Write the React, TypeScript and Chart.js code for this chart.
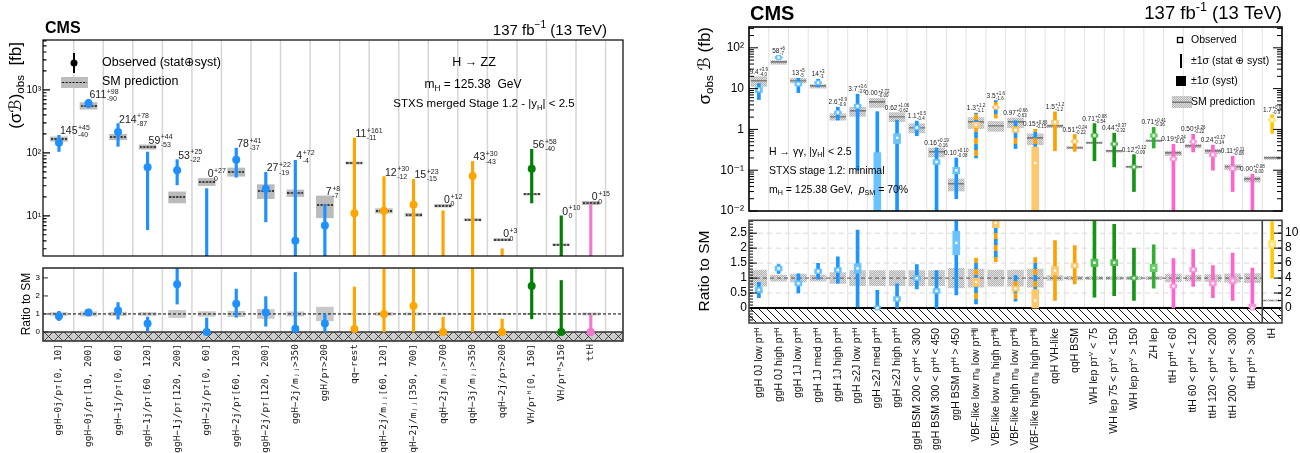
import React, { useEffect, useRef } from 'react';
import { Chart, registerables } from 'chart.js';

Chart.register(...registerables);

const SANS = '"Liberation Sans", Arial, Helvetica, "DejaVu Sans", sans-serif';
const MONO = '"DejaVu Sans Mono", "Liberation Mono", monospace';

// ================= Left panel: H -> ZZ =================
const zzCategories = [
  'ggH−0j/pᴛ[0, 10]', 'ggH−0j/pᴛ[10, 200]', 'ggH−1j/pᴛ[0, 60]', 'ggH−1j/pᴛ[60, 120]',
  'ggH−1j/pᴛ[120, 200]', 'ggH−2j/pᴛ[0, 60]', 'ggH−2j/pᴛ[60, 120]', 'ggH−2j/pᴛ[120, 200]',
  'ggH−2j/mⱼⱼ>350', 'ggH/pᴛ>200', 'qq−rest', 'qqH−2j/mⱼⱼ[60, 120]', 'qqH−2j/mⱼⱼ[350, 700]',
  'qqH−2j/mⱼⱼ>700', 'qqH−3j/mⱼⱼ>350', 'qqH−2j/pᴛ>200', 'VH/pᴛᴴ[0, 150]', 'VH/pᴛᴴ>150', 'ttH',
];
const zzGroup = ['ggH', 'ggH', 'ggH', 'ggH', 'ggH', 'ggH', 'ggH', 'ggH', 'ggH', 'ggH',
  'qqH', 'qqH', 'qqH', 'qqH', 'qqH', 'qqH', 'VH', 'VH', 'ttH'];
const zzObs = [145, 611, 214, 59, 53, 0, 78, 27, 4, 7, 11, 12, 15, 0, 43, 0, 56, 0, 0];
const zzUp = [45, 98, 78, 44, 25, 27, 41, 22, 72, 8, 161, 30, 23, 12, 30, 3, 58, 10, 15];
const zzDown = [40, 90, 87, 53, 22, 0, 37, 19, 4, 7, 11, 12, 15, 0, 43, 0, 40, 0, 0];
const zzSM = [166, 562, 179, 124, 20, 34.7, 50, 25, 23, 15, 69, 12, 10.4, 14.5, 8.7, 4.2, 22, 3.5, 16];
const zzSMUnc = [0.08, 0.12, 0.1, 0.08, 0.2, 0.13, 0.15, 0.25, 0.12, 0.38, 0.04, 0.08, 0.06, 0.05, 0.04, 0.04, 0.03, 0.03, 0.06];
const zzYTicks = [10, 100, 1000];
const zzYTickLabels = ['10¹', '10²', '10³'];
const zzRatioTicks = [0, 1, 2, 3];
const ZZ_COLORS: Record<string, string> = {
  ggH: 'rgb(30,144,255)', qqH: 'rgb(255,165,0)', VH: 'rgb(0,128,0)', ttH: 'rgb(240,120,205)',
};

// ================= Right panel: H -> gamma gamma =================
const ggCategories = [
  'ggH 0J low pᴛᴴ', 'ggH 0J high pᴛᴴ', 'ggH 1J low pᴛᴴ', 'ggH 1J med pᴛᴴ', 'ggH 1J high pᴛᴴ',
  'ggH ≥2J low pᴛᴴ', 'ggH ≥2J med pᴛᴴ', 'ggH ≥2J high pᴛᴴ', 'ggH BSM 200 < pᴛᴴ < 300',
  'ggH BSM 300 < pᴛᴴ < 450', 'ggH BSM pᴛᴴ > 450', 'VBF-like low mⱼⱼ low pᴛᴴʲʲ',
  'VBF-like low mⱼⱼ high pᴛᴴʲʲ', 'VBF-like high mⱼⱼ low pᴛᴴʲʲ', 'VBF-like high mⱼⱼ high pᴛᴴʲʲ',
  'qqH VH-like', 'qqH BSM', 'WH lep pᴛⱽ < 75', 'WH lep 75 < pᴛⱽ < 150', 'WH lep pᴛⱽ > 150',
  'ZH lep', 'ttH pᴛᴴ < 60', 'ttH 60 < pᴛᴴ < 120', 'ttH 120 < pᴛᴴ < 200', 'ttH 200 < pᴛᴴ < 300',
  'ttH pᴛᴴ > 300', 'tH',
];
const ggGroup = ['ggH', 'ggH', 'ggH', 'ggH', 'ggH', 'ggH', 'ggH', 'ggH', 'ggH', 'ggH', 'ggH',
  'VBF', 'VBF', 'VBF', 'VBF', 'qqH', 'qqH', 'WH', 'WH', 'WH', 'ZH', 'ttH', 'ttH', 'ttH', 'ttH', 'ttH', 'tH'];
const ggObs = [9.4, 58, 13, 14, 2.6, 3.7, 0.0, 0.62, 1.1, 0.16, 0.10, 1.3, 3.5, 0.97, 0.15, 1.5, 0.51,
  0.71, 0.44, 0.12, 0.71, 0.19, 0.50, 0.24, 0.11, 0.0, 1.7];
const ggUp = [3.9, 6, 5, 3, 0.9, 3.6, 2.72, 1.06, 0.5, 0.19, 0.10, 1.2, 1.6, 0.66, 0.86, 1.2, 0.24,
  0.68, 0.37, 0.12, 0.41, 0.24, 0.26, 0.17, 0.11, 0.08, 0.6];
const ggDown = [4.0, 7, 5, 3, 0.9, 3.6, 0.0, 0.62, 0.4, 0.16, 0.08, 1.1, 1.6, 0.63, 0.15, 1.2, 0.22,
  0.54, 0.32, 0.09, 0.36, 0.19, 0.22, 0.14, 0.08, 0.0, 0.9];
const ggSysUp = [1.4, 3.5, 1.3, 0.8, 0.17, 0.45, 0.27, 0.17, 0.09, 0.022, 0.018, 0.2, 0.2, 0.12, 0.22,
  0.17, 0.03, 0.06, 0.03, 0.006, 0.065, 0.016, 0.03, 0.026, 0.012, 0.008, 0.11];
const ggSysDown = [1.4, 3.5, 1.3, 0.8, 0.17, 0.45, 0.0, 0.17, 0.09, 0.022, 0.018, 0.2, 0.2, 0.12, 0.15,
  0.17, 0.03, 0.06, 0.03, 0.006, 0.065, 0.016, 0.03, 0.026, 0.012, 0.0, 0.11];
const ggSM = [15.5, 44, 15.8, 11.4, 2.05, 2.8, 4.6, 2.07, 1.1, 0.28, 0.046, 1.5, 1.23, 1.5, 0.6, 1.2,
  0.36, 0.47, 0.29, 0.12, 0.53, 0.26, 0.39, 0.29, 0.12, 0.06, 0.2];
const ggSMUnc = [0.27, 0.1, 0.13, 0.1, 0.18, 0.25, 0.25, 0.25, 0.25, 0.25, 0.33, 0.3, 0.27, 0.27, 0.3,
  0.08, 0.06, 0.05, 0.05, 0.05, 0.05, 0.13, 0.1, 0.12, 0.14, 0.15, 0.08];
const ggDecimals = [1, 0, 0, 0, 1, 1, 2, 2, 1, 2, 2, 1, 1, 2, 2, 1, 2, 2, 2, 2, 2, 2, 2, 2, 2, 2, 1];
const ggYTicks = [0.01, 0.1, 1, 10, 100];
const ggYTickLabels = ['10⁻²', '10⁻¹', '1', '10', '10²'];
const ggRatioTicks = [0, 0.5, 1, 1.5, 2, 2.5];
const ggRatioTickLabels = ['0', '0.5', '1', '1.5', '2', '2.5'];
const ggTHTicks = [0, 2, 4, 6, 8, 10];
const GG_DARK: Record<string, string> = {
  ggH: 'rgb(25,150,255)', VBF: 'rgb(255,160,0)', qqH: 'rgb(255,160,0)', WH: 'rgb(20,150,20)',
  ZH: 'rgb(50,175,50)', ttH: 'rgb(255,100,205)', tH: 'rgb(255,200,0)',
};
const GG_LIGHT: Record<string, string> = {
  ggH: 'rgb(105,195,255)', VBF: 'rgb(255,200,110)', qqH: 'rgb(255,200,110)', WH: 'rgb(80,190,80)',
  ZH: 'rgb(100,205,100)', ttH: 'rgb(255,150,220)', tH: 'rgb(255,228,110)',
};

// ================= helpers =================
type Seg = { t: string; k?: 'sub' | 'sup'; it?: boolean; b?: boolean };

function drawRich(ctx: CanvasRenderingContext2D, segs: Seg[], x: number, y: number, size: number,
  align: 'left' | 'center' | 'right' = 'left', rotate = false, color = '#000') {
  const fnt = (s: Seg) => `${s.it ? 'italic ' : ''}${s.b ? 'bold ' : ''}${s.k ? size * 0.68 : size}px ${SANS}`;
  ctx.save();
  ctx.fillStyle = color;
  ctx.textAlign = 'left';
  ctx.textBaseline = 'middle';
  const ws = segs.map((s) => { ctx.font = fnt(s); return ctx.measureText(s.t).width; });
  const total = ws.reduce((a, b) => a + b, 0);
  ctx.translate(x, y);
  if (rotate) ctx.rotate(-Math.PI / 2);
  let cx = align === 'left' ? 0 : align === 'center' ? -total / 2 : -total;
  segs.forEach((s, i) => {
    ctx.font = fnt(s);
    const dy = s.k === 'sub' ? size * 0.3 : s.k === 'sup' ? -size * 0.36 : 0;
    ctx.fillText(s.t, cx, dy);
    cx += ws[i];
  });
  ctx.restore();
}

function drawErrLabel(ctx: CanvasRenderingContext2D, main: string, sup: string, sub: string,
  x: number, y: number, size: number, ssize: number, align: 'left' | 'center') {
  ctx.save();
  ctx.fillStyle = '#222';
  ctx.textAlign = 'left';
  ctx.textBaseline = 'alphabetic';
  ctx.font = `${size}px ${SANS}`;
  const wm = ctx.measureText(main).width;
  ctx.font = `${ssize}px ${SANS}`;
  const ws = Math.max(ctx.measureText(sup).width, ctx.measureText(sub).width);
  const x0 = align === 'center' ? x - (wm + ws + 0.5) / 2 : x;
  ctx.font = `${size}px ${SANS}`;
  ctx.fillText(main, x0, y);
  ctx.font = `${ssize}px ${SANS}`;
  ctx.fillText(sup, x0 + wm + 0.5, y - size * 0.42);
  ctx.fillText(sub, x0 + wm + 0.5, y + ssize * 0.45);
  ctx.restore();
}

function makeCanvas(w: number, h: number, draw: (c: CanvasRenderingContext2D) => void) {
  const c = document.createElement('canvas');
  c.width = w;
  c.height = h;
  draw(c.getContext('2d') as CanvasRenderingContext2D);
  return c;
}

const zeroPad = (s: any) => { s.paddingLeft = 0; s.paddingRight = 0; s.paddingTop = 0; s.paddingBottom = 0; };

function drawTicks(ctx: CanvasRenderingContext2D, chart: any, axis: string, values: number[], len: number, side: 'left' | 'right') {
  const s = chart.scales[axis];
  const a = chart.chartArea;
  ctx.beginPath();
  values.forEach((v) => {
    const y = s.getPixelForValue(v);
    if (y < a.top - 0.5 || y > a.bottom + 0.5) return;
    if (side === 'left') { ctx.moveTo(a.left, y); ctx.lineTo(a.left + len, y); }
    else { ctx.moveTo(a.right, y); ctx.lineTo(a.right - len, y); }
  });
  ctx.stroke();
}

function vGrid(ctx: CanvasRenderingContext2D, chart: any, n: number, color: string, lw: number) {
  const xs = chart.scales.x;
  const a = chart.chartArea;
  ctx.save();
  ctx.strokeStyle = color;
  ctx.lineWidth = lw;
  ctx.beginPath();
  for (let i = 0; i < n; i++) {
    const x = xs.getPixelForValue(i + 0.5);
    if (x >= a.right - 1) continue;
    ctx.moveTo(x, a.top);
    ctx.lineTo(x, a.bottom);
  }
  ctx.stroke();
  ctx.restore();
}

function logMinorTicks(lo: number, hi: number) {
  const out: number[] = [];
  for (let e = Math.floor(Math.log10(lo)); e <= Math.ceil(Math.log10(hi)); e++) {
    for (let m = 2; m <= 9; m++) {
      const v = m * Math.pow(10, e);
      if (v >= lo && v <= hi) out.push(v);
    }
  }
  return out;
}

const baseOptions = () => ({
  responsive: false,
  animation: false,
  events: [],
  plugins: { legend: { display: false }, tooltip: { enabled: false } },
});

const ZZ_XMIN = -0.54;
const ZZ_XMAX = 19.09;
const GG_XMIN = -0.5;
const GG_XMAX = 26.5;

const zzColor = (i: number) => ZZ_COLORS[zzGroup[i]];

function xAxis(min: number, max: number, labels: string[], show: boolean, height: number, font: any, pad: number) {
  return {
    type: 'linear', min, max, offset: false,
    grid: { display: false, drawTicks: false }, border: { display: false },
    ticks: {
      display: show, autoSkip: false, maxRotation: 90, minRotation: 90, padding: pad, color: '#111', font,
      callback: (v: any) => labels[v] ?? '',
    },
    afterBuildTicks: (s: any) => { s.ticks = labels.map((_, i) => ({ value: i })); },
    afterFit: (s: any) => { s.height = height; zeroPad(s); },
  };
}

// ================= Left top =================
function zzTopConfig(): any {
  const idx = zzCategories.map((_, i) => i);
  const yMin = 2.3;
  const yMax = 6200;
  const dash = makeCanvas(16, 2, (c) => {
    c.strokeStyle = '#111'; c.lineWidth = 1.3; c.setLineDash([2.2, 1.3]);
    c.beginPath(); c.moveTo(0, 1); c.lineTo(16, 1); c.stroke();
  });
  const pts = idx.filter((i) => zzObs[i] > 0);
  return {
    type: 'bar',
    data: {
      datasets: [
        { type: 'line', data: pts.map((i) => ({ x: i, y: zzObs[i] })), showLine: false, pointRadius: 4,
          pointBackgroundColor: pts.map(zzColor), pointBorderWidth: 0, order: 0, clip: 5 },
        { type: 'bar', data: idx.map((i) => ({ x: i, y: [Math.max(zzObs[i] - zzDown[i], yMin), zzObs[i] + zzUp[i]] })),
          backgroundColor: idx.map(zzColor), barThickness: 2.5, grouped: false, order: 2, clip: 0 },
        { type: 'line', data: idx.map((i) => ({ x: i, y: zzSM[i] })), showLine: false, pointStyle: dash,
          pointRadius: 8, order: 3, clip: 8 },
        { type: 'bar', data: idx.map((i) => ({ x: i, y: [zzSM[i] * (1 - zzSMUnc[i]), zzSM[i] * (1 + zzSMUnc[i])] })),
          backgroundColor: 'rgba(180,180,180,0.9)', barThickness: 17, grouped: false, order: 4, clip: 0 },
      ],
    },
    options: {
      ...baseOptions(),
      layout: { padding: { top: 40, right: 17, bottom: 0, left: 0 } },
      scales: {
        x: xAxis(ZZ_XMIN, ZZ_XMAX, zzCategories, false, 8, { size: 10, family: MONO }, 3),
        y: {
          type: 'logarithmic', min: yMin, max: yMax,
          grid: { display: false, drawTicks: false }, border: { display: false },
          ticks: { padding: 2, color: '#000', font: { size: 10, family: SANS },
            callback: (v: any) => zzYTickLabels[zzYTicks.indexOf(Number(v))] ?? '' },
          afterBuildTicks: (s: any) => { s.ticks = zzYTicks.map((v) => ({ value: v })); },
          afterFit: (s: any) => { s.width = 43; zeroPad(s); },
        },
      },
    },
    plugins: [{
      id: 'zzTop',
      beforeDatasetsDraw(chart: any) {
        vGrid(chart.ctx, chart, zzCategories.length, '#d6d6d6', 1.5);
      },
      afterDatasetsDraw(chart: any) {
        const ctx = chart.ctx;
        const a = chart.chartArea;
        const ys = chart.scales.y;
        const xs = chart.scales.x;
        idx.forEach((i) => {
          const top = Math.min(ys.getPixelForValue(zzObs[i] + zzUp[i]), ys.getPixelForValue(zzSM[i] * (1 + zzSMUnc[i])));
          drawErrLabel(ctx, String(zzObs[i]), '+' + zzUp[i], zzObs[i] === 0 ? '0' : '-' + zzDown[i],
            xs.getPixelForValue(i) + 1, top - 1, 10.5, 7, 'left');
        });
        ctx.save();
        ctx.strokeStyle = '#000';
        ctx.lineWidth = 1.2;
        drawTicks(ctx, chart, 'y', zzYTicks, 7, 'left');
        drawTicks(ctx, chart, 'y', logMinorTicks(yMin, yMax), 3.5, 'left');
        ctx.strokeRect(a.left, a.top, a.right - a.left, a.bottom - a.top);
        ctx.restore();
      },
      afterDraw(chart: any) {
        const ctx = chart.ctx;
        drawRich(ctx, [{ t: 'CMS', b: true }], 45, 29, 16);
        drawRich(ctx, [{ t: '137 fb' }, { t: '−1', k: 'sup' }, { t: ' (13 TeV)' }], 607, 31, 15, 'right');
        drawRich(ctx, [{ t: '(σ' }, { t: 'ℬ', it: true }, { t: ')' }, { t: 'obs', k: 'sub' }, { t: '  [fb]' }], 16, 42, 17, 'right', true);
        // legend
        ctx.save();
        ctx.fillStyle = '#000';
        ctx.fillRect(73, 53, 2, 20);
        ctx.beginPath(); ctx.arc(74, 63, 3.5, 0, Math.PI * 2); ctx.fill();
        ctx.fillStyle = '#bdbdbd';
        ctx.fillRect(61, 77, 27, 11);
        ctx.strokeStyle = '#111'; ctx.lineWidth = 1.2; ctx.setLineDash([2.2, 1.3]);
        ctx.beginPath(); ctx.moveTo(62, 82.5); ctx.lineTo(87, 82.5); ctx.stroke();
        ctx.restore();
        drawRich(ctx, [{ t: 'Observed (stat⊕syst)' }], 102, 63, 12.5);
        drawRich(ctx, [{ t: 'SM prediction' }], 102, 82, 12.5);
        drawRich(ctx, [{ t: 'H → ZZ' }], 474, 63, 12.5, 'center');
        drawRich(ctx, [{ t: 'm' }, { t: 'H', k: 'sub' }, { t: ' = 125.38  GeV' }], 473, 85, 12, 'center');
        drawRich(ctx, [{ t: 'STXS merged Stage 1.2 - |y' }, { t: 'H', k: 'sub' }, { t: '| < 2.5' }], 484, 104, 11.5, 'center');
      },
    }],
  };
}

// ================= Left ratio =================
function zzRatioConfig(): any {
  const idx = zzCategories.map((_, i) => i);
  return {
    type: 'bar',
    data: {
      datasets: [
        { type: 'line', data: idx.map((i) => ({ x: i, y: zzObs[i] / zzSM[i] })), showLine: false, pointRadius: 4,
          pointBackgroundColor: idx.map(zzColor), pointBorderWidth: 0, order: 0, clip: 5 },
        { type: 'bar', data: idx.map((i) => ({ x: i, y: [(zzObs[i] - zzDown[i]) / zzSM[i], (zzObs[i] + zzUp[i]) / zzSM[i]] })),
          backgroundColor: idx.map(zzColor), barThickness: 2.5, grouped: false, order: 1, clip: 0 },
        { type: 'line', data: [{ x: ZZ_XMIN, y: 1 }, { x: ZZ_XMAX, y: 1 }], borderColor: '#000', borderWidth: 1,
          borderDash: [3, 2], pointRadius: 0, order: 2, clip: 0 },
        { type: 'bar', data: idx.map((i) => ({ x: i, y: [1 - zzSMUnc[i], 1 + zzSMUnc[i]] })),
          backgroundColor: 'rgba(190,190,190,0.85)', barThickness: 17, grouped: false, order: 3, clip: 0 },
      ],
    },
    options: {
      ...baseOptions(),
      layout: { padding: { top: 8, right: 17, bottom: 0, left: 0 } },
      scales: {
        x: xAxis(ZZ_XMIN, ZZ_XMAX, zzCategories, true, 112, { size: 9.5, family: MONO }, 3),
        y: {
          type: 'linear', min: -0.5, max: 3.55,
          grid: { display: false, drawTicks: false }, border: { display: false },
          ticks: { padding: 3, color: '#000', font: { size: 8, family: SANS }, callback: (v: any) => String(v) },
          afterBuildTicks: (s: any) => { s.ticks = zzRatioTicks.map((v) => ({ value: v })); },
          afterFit: (s: any) => { s.width = 43; zeroPad(s); },
        },
      },
    },
    plugins: [{
      id: 'zzRatio',
      beforeDatasetsDraw(chart: any) {
        const ctx = chart.ctx;
        const a = chart.chartArea;
        vGrid(ctx, chart, zzCategories.length, '#d6d6d6', 1.5);
        const y0 = chart.scales.y.getPixelForValue(0);
        const h = a.bottom - y0;
        ctx.save();
        ctx.beginPath(); ctx.rect(a.left, y0, a.right - a.left, h); ctx.clip();
        ctx.fillStyle = '#cccccc';
        ctx.fillRect(a.left, y0, a.right - a.left, h);
        ctx.strokeStyle = '#222'; ctx.lineWidth = 0.8;
        ctx.beginPath();
        for (let x = a.left - h; x < a.right + h; x += 10) {
          ctx.moveTo(x, a.bottom); ctx.lineTo(x + h, y0);
          ctx.moveTo(x, y0); ctx.lineTo(x + h, a.bottom);
        }
        ctx.stroke();
        ctx.restore();
        ctx.save();
        ctx.strokeStyle = '#333'; ctx.lineWidth = 1.5;
        ctx.beginPath(); ctx.moveTo(a.left, y0); ctx.lineTo(a.right, y0); ctx.stroke();
        ctx.restore();
      },
      afterDatasetsDraw(chart: any) {
        const ctx = chart.ctx;
        const a = chart.chartArea;
        ctx.save();
        ctx.strokeStyle = '#333';
        ctx.lineWidth = 1;
        drawTicks(ctx, chart, 'y', zzRatioTicks, 5, 'left');
        ctx.lineWidth = 1.6;
        ctx.strokeRect(a.left, a.top, a.right - a.left, a.bottom - a.top);
        ctx.restore();
      },
      afterDraw(chart: any) {
        drawRich(chart.ctx, [{ t: 'Ratio to SM' }], 27, 44, 12, 'center', true);
      },
    }],
  };
}

// ================= Right panel helpers =================
function ggPatterns() {
  const vbfCanvas = makeCanvas(3, 12, (c) => {
    c.fillStyle = GG_DARK.ggH; c.fillRect(0, 0, 3, 6);
    c.fillStyle = GG_DARK.VBF; c.fillRect(0, 6, 3, 6);
  });
  const smCanvas = makeCanvas(2, 2, (c) => {
    c.fillStyle = '#e0e0e0'; c.fillRect(0, 0, 2, 2);
    c.fillStyle = '#b2b2b2'; c.fillRect(0, 0, 1, 1); c.fillRect(1, 1, 1, 1);
  });
  const ctx = document.createElement('canvas').getContext('2d') as CanvasRenderingContext2D;
  return {
    vbf: ctx.createPattern(vbfCanvas, 'repeat'),
    sm: ctx.createPattern(smCanvas, 'repeat'),
  };
}

const ggDark = (i: number) => GG_DARK[ggGroup[i]];
const ggLight = (i: number) => GG_LIGHT[ggGroup[i]];

function ggSets(ids: number[], axis: string, pats: any, val: (v: number, i: number) => number, clampMin: number, withSMLine: boolean, smLineImg: any) {
  const cl = (v: number) => Math.max(v, clampMin);
  const pts = ids.filter((i) => ggObs[i] > 0 || clampMin <= 0);
  const sets: any[] = [
    { type: 'line', yAxisID: axis, data: pts.map((i) => ({ x: i, y: val(ggObs[i], i) })), showLine: false,
      pointStyle: 'rect', pointRadius: 2.6, pointBackgroundColor: '#fff', pointBorderColor: pts.map(ggLight),
      pointBorderWidth: 1.3, order: 0, clip: 5 },
    { type: 'bar', yAxisID: axis, data: ids.map((i) => ({ x: i, y: [cl(val(ggObs[i] - ggSysDown[i], i)), val(ggObs[i] + ggSysUp[i], i)] })),
      backgroundColor: ids.map(ggLight), barThickness: 7, grouped: false, order: 1, clip: 0 },
    { type: 'bar', yAxisID: axis, data: ids.map((i) => ({ x: i, y: [cl(val(ggObs[i] - ggDown[i], i)), val(ggObs[i] + ggUp[i], i)] })),
      backgroundColor: ids.map((i) => (ggGroup[i] === 'VBF' ? pats.vbf : ggDark(i))), barThickness: 3, grouped: false, order: 2, clip: 0 },
    { type: 'bar', yAxisID: axis, data: ids.map((i) => ({ x: i, y: [val(ggSM[i] * (1 - ggSMUnc[i]), i), val(ggSM[i] * (1 + ggSMUnc[i]), i)] })),
      backgroundColor: pats.sm, barThickness: 16, grouped: false, order: 4, clip: 0 },
  ];
  if (withSMLine) {
    sets.push({ type: 'line', yAxisID: axis, data: ids.map((i) => ({ x: i, y: val(ggSM[i], i) })), showLine: false,
      pointStyle: smLineImg, pointRadius: 8, order: 3, clip: 8 });
  }
  return sets;
}

// ================= Right top =================
function ggTopConfig(): any {
  const idx = ggCategories.map((_, i) => i);
  const yMin = 0.01;
  const yMax = 324;
  const pats = ggPatterns();
  const smLine = makeCanvas(16, 2, (c) => { c.fillStyle = '#7a7a7a'; c.fillRect(0, 0, 16, 1.5); });
  const OX = 650;
  return {
    type: 'bar',
    data: { datasets: ggSets(idx, 'y', pats, (v) => v, yMin, true, smLine) },
    options: {
      ...baseOptions(),
      layout: { padding: { top: 27, right: 18, bottom: 0, left: 0 } },
      scales: {
        x: xAxis(GG_XMIN, GG_XMAX, ggCategories, false, 8, { size: 10.5, family: SANS }, 5),
        y: {
          type: 'logarithmic', min: yMin, max: yMax,
          grid: { display: false, drawTicks: false }, border: { display: false },
          ticks: { padding: 5, color: '#000', font: { size: 12, family: SANS },
            callback: (v: any) => ggYTickLabels[ggYTicks.indexOf(Number(v))] ?? '' },
          afterBuildTicks: (s: any) => { s.ticks = ggYTicks.map((v) => ({ value: v })); },
          afterFit: (s: any) => { s.width = 99; zeroPad(s); },
        },
      },
    },
    plugins: [{
      id: 'ggTop',
      beforeDatasetsDraw(chart: any) {
        vGrid(chart.ctx, chart, ggCategories.length, '#e2e2e2', 1);
      },
      afterDatasetsDraw(chart: any) {
        const ctx = chart.ctx;
        const a = chart.chartArea;
        const ys = chart.scales.y;
        const xs = chart.scales.x;
        idx.forEach((i) => {
          const d = ggDecimals[i];
          const top = Math.min(ys.getPixelForValue(ggObs[i] + ggUp[i]), ys.getPixelForValue(ggSM[i] * (1 + ggSMUnc[i])));
          drawErrLabel(ctx, ggObs[i].toFixed(d), '+' + ggUp[i].toFixed(d), '-' + ggDown[i].toFixed(d),
            xs.getPixelForValue(i), top - 3, 6.5, 4.5, 'center');
        });
        ctx.save();
        ctx.strokeStyle = '#000';
        ctx.lineWidth = 1;
        const minors = logMinorTicks(yMin, yMax);
        drawTicks(ctx, chart, 'y', ggYTicks, 9, 'left');
        drawTicks(ctx, chart, 'y', minors, 5, 'left');
        drawTicks(ctx, chart, 'y', ggYTicks, 9, 'right');
        drawTicks(ctx, chart, 'y', minors, 5, 'right');
        ctx.lineWidth = 1.6;
        ctx.strokeRect(a.left, a.top, a.right - a.left, a.bottom - a.top);
        ctx.restore();
      },
      afterDraw(chart: any) {
        const ctx = chart.ctx;
        drawRich(ctx, [{ t: 'CMS', b: true }], 750 - OX, 14, 20);
        drawRich(ctx, [{ t: '137 fb' }, { t: '-1', k: 'sup' }, { t: ' (13 TeV)' }], 1282 - OX, 14, 18.5, 'right');
        drawRich(ctx, [{ t: 'σ' }, { t: 'obs', k: 'sub' }, { t: ' ' }, { t: 'ℬ', it: true }, { t: ' (fb)' }], 705 - OX, 27, 17, 'right', true);
        drawRich(ctx, [{ t: 'H → γγ, |y' }, { t: 'H', k: 'sub' }, { t: '| < 2.5' }], 769 - OX, 152, 10.5);
        drawRich(ctx, [{ t: 'STXS stage 1.2: minimal' }], 769 - OX, 171, 10.5);
        drawRich(ctx, [{ t: 'm' }, { t: 'H', k: 'sub' }, { t: ' = 125.38 GeV,  ' }, { t: 'p', it: true }, { t: 'SM', k: 'sub' }, { t: ' = 70%' }], 769 - OX, 190, 10.5);
        // legend
        ctx.save();
        ctx.strokeStyle = '#000'; ctx.lineWidth = 1.3; ctx.fillStyle = '#fff';
        ctx.fillRect(1177.5 - OX, 37.5, 5, 5); ctx.strokeRect(1177.5 - OX, 37.5, 5, 5);
        ctx.fillStyle = '#000';
        ctx.fillRect(1180 - OX, 54, 2, 14);
        ctx.fillRect(1176 - OX, 76, 10, 10);
        ctx.fillStyle = pats.sm as any;
        ctx.fillRect(1172 - OX, 96, 20, 12);
        ctx.fillStyle = '#7a7a7a';
        ctx.fillRect(1172 - OX, 101.5, 20, 1.5);
        ctx.restore();
        drawRich(ctx, [{ t: 'Observed' }], 1191 - OX, 40, 10.5);
        drawRich(ctx, [{ t: '±1σ (stat ⊕ syst)' }], 1191 - OX, 61, 10.5);
        drawRich(ctx, [{ t: '±1σ (syst)' }], 1191 - OX, 81, 10.5);
        drawRich(ctx, [{ t: 'SM prediction' }], 1191 - OX, 102, 10.5);
      },
    }],
  };
}

// ================= Right ratio =================
function ggRatioConfig(): any {
  const pats = ggPatterns();
  const mainIds = ggCategories.map((_, i) => i).filter((i) => ggGroup[i] !== 'tH');
  const thIds = ggCategories.map((_, i) => i).filter((i) => ggGroup[i] === 'tH');
  const r = (v: number, i: number) => v / ggSM[i];
  const sep = 25.5;
  const datasets = [
    ...ggSets(mainIds, 'y', pats, r, 0, false, null),
    ...ggSets(thIds, 'y2', pats, r, 0, false, null),
    { type: 'line', yAxisID: 'y', data: [{ x: GG_XMIN, y: 1 }, { x: sep, y: 1 }], borderColor: '#555', borderWidth: 1,
      borderDash: [4, 3], pointRadius: 0, order: 3, clip: 0 },
    { type: 'line', yAxisID: 'y2', data: [{ x: sep, y: 1 }, { x: GG_XMAX, y: 1 }], borderColor: '#888', borderWidth: 1,
      borderDash: [4, 3], pointRadius: 0, order: 3, clip: 0 },
  ];
  return {
    type: 'bar',
    data: { datasets },
    options: {
      ...baseOptions(),
      layout: { padding: { top: 4, right: 0, bottom: 0, left: 0 } },
      scales: {
        x: xAxis(GG_XMIN, GG_XMAX, ggCategories, true, 130, { size: 10.5, family: SANS }, 5),
        y: {
          type: 'linear', min: -0.5, max: 2.93,
          grid: { display: false, drawTicks: false }, border: { display: false },
          ticks: { padding: 2, color: '#000', font: { size: 12, family: SANS },
            callback: (v: any) => ggRatioTickLabels[ggRatioTicks.indexOf(Number(v))] ?? '' },
          afterBuildTicks: (s: any) => { s.ticks = ggRatioTicks.map((v) => ({ value: v })); },
          afterFit: (s: any) => { s.width = 99; zeroPad(s); },
        },
        y2: {
          type: 'linear', position: 'right', min: -2, max: 11.72,
          grid: { display: false, drawTicks: false }, border: { display: false },
          ticks: { padding: 3, color: '#000', font: { size: 12, family: SANS }, callback: (v: any) => String(v) },
          afterBuildTicks: (s: any) => { s.ticks = ggTHTicks.map((v) => ({ value: v })); },
          afterFit: (s: any) => { s.width = 18; zeroPad(s); },
        },
      },
    },
    plugins: [{
      id: 'ggRatio',
      beforeDatasetsDraw(chart: any) {
        const ctx = chart.ctx;
        const a = chart.chartArea;
        const ys = chart.scales.y;
        vGrid(ctx, chart, ggCategories.length, '#e2e2e2', 1);
        ctx.save();
        ctx.strokeStyle = '#d9d9d9'; ctx.lineWidth = 1; ctx.setLineDash([5, 4]);
        ctx.beginPath();
        [0.5, 1.5, 2, 2.5].forEach((v) => {
          const y = ys.getPixelForValue(v);
          ctx.moveTo(a.left, y); ctx.lineTo(a.right, y);
        });
        ctx.stroke();
        ctx.restore();
        const y0 = ys.getPixelForValue(0);
        const h = a.bottom - y0;
        ctx.save();
        ctx.beginPath(); ctx.rect(a.left, y0, a.right - a.left, h); ctx.clip();
        ctx.fillStyle = '#fff';
        ctx.fillRect(a.left, y0, a.right - a.left, h);
        ctx.strokeStyle = '#111'; ctx.lineWidth = 1;
        ctx.beginPath();
        for (let x = a.left - h; x < a.right + h; x += 8) {
          ctx.moveTo(x, y0); ctx.lineTo(x + h, a.bottom);
        }
        ctx.stroke();
        ctx.restore();
        ctx.save();
        ctx.strokeStyle = '#000'; ctx.lineWidth = 2;
        ctx.beginPath(); ctx.moveTo(a.left, y0); ctx.lineTo(a.right, y0); ctx.stroke();
        ctx.restore();
      },
      afterDatasetsDraw(chart: any) {
        const ctx = chart.ctx;
        const a = chart.chartArea;
        const xs = chart.scales.x;
        ctx.save();
        ctx.strokeStyle = '#000';
        ctx.lineWidth = 1;
        const minorL: number[] = [];
        for (let k = -4; k <= 29; k++) minorL.push(k / 10);
        drawTicks(ctx, chart, 'y', ggRatioTicks, 8, 'left');
        drawTicks(ctx, chart, 'y', minorL, 4, 'left');
        const minorR: number[] = [];
        for (let k = -1; k <= 11; k++) minorR.push(k);
        drawTicks(ctx, chart, 'y2', ggTHTicks, 8, 'right');
        drawTicks(ctx, chart, 'y2', minorR, 4, 'right');
        ctx.strokeStyle = '#444';
        ctx.lineWidth = 1.6;
        ctx.strokeRect(a.left, a.top, a.right - a.left, a.bottom - a.top);
        const xsep = xs.getPixelForValue(sep);
        ctx.beginPath(); ctx.moveTo(xsep, a.top); ctx.lineTo(xsep, a.bottom); ctx.stroke();
        ctx.restore();
      },
      afterDraw(chart: any) {
        drawRich(chart.ctx, [{ t: 'Ratio to SM' }], 55, 56, 15.5, 'center', true);
      },
    }],
  };
}

// ================= React =================
function Panel({ make, left, top, width, height }: { make: () => any; left: number; top: number; width: number; height: number }) {
  const ref = useRef<HTMLCanvasElement | null>(null);
  useEffect(() => {
    if (!ref.current) return;
    const chart = new Chart(ref.current, make());
    return () => chart.destroy();
  }, [make]);
  return (
    <canvas
      ref={ref}
      width={width}
      height={height}
      style={{ position: 'absolute', left, top, width, height, display: 'block' }}
    />
  );
}

export default function App() {
  return (
    <div style={{ position: 'fixed', left: 0, top: 0, width: 1300, height: 453, background: '#fff', overflow: 'hidden' }}>
      <Panel make={zzTopConfig} left={0} top={0} width={640} height={265} />
      <Panel make={zzRatioConfig} left={0} top={260} width={640} height={193} />
      <Panel make={ggTopConfig} left={650} top={0} width={650} height={220} />
      <Panel make={ggRatioConfig} left={650} top={215} width={650} height={238} />
    </div>
  );
}
